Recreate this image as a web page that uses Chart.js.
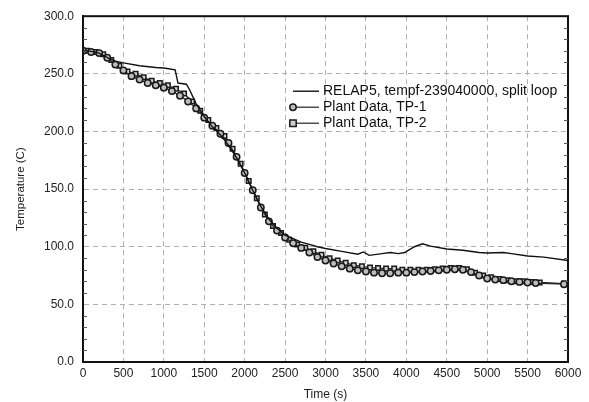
<!DOCTYPE html>
<html lang="en">
<head>
  <meta charset="UTF-8" />
  <title>Temperature vs Time</title>
  <style>
    body { margin: 0; background: #fff; }
    .wrap { position: relative; width: 589px; height: 402px; }
  </style>
</head>
<body>
  <div class="wrap"><canvas id="tempChart" width="589" height="402"></canvas></div>

  <script src="https://cdn.jsdelivr.net/npm/chart.js"></script>
  <script>
    // RELAP5 calculation (time in s, temperature in C)
    const relapTime = [0, 100, 200, 300, 400, 500, 700, 900, 1000, 1140, 1175, 1280, 1320, 1400, 1500, 1600, 1700, 1800, 1900, 2000,
      2100, 2200, 2300, 2400, 2500, 2600, 2700, 2800, 2900, 3000, 3200, 3400, 3470, 3540, 3700, 3800, 3900, 3980, 4100, 4200,
      4300, 4500, 4700, 4900, 5000, 5200, 5300, 5500, 5700, 6000];
    const relapTemp = [270, 269.5, 268, 264, 261, 259.5, 257, 255.5, 255, 253.5, 242, 241, 236, 224, 213, 204, 197, 188, 177, 164,
      149, 135, 124, 116, 110, 107, 104, 102, 100, 98.5, 96, 93.5, 95.5, 92.5, 94, 95, 94, 95, 100, 102.5,
      100.5, 98, 97, 95, 94.5, 95, 94, 92, 91, 88];

    // Plant data TP-1 (circles)
    const tp1Time = [0, 100, 200, 300, 400, 500, 600, 700, 800, 900, 1000, 1100, 1200, 1300, 1400, 1500, 1600, 1700, 1800, 1900,
      2000, 2100, 2200, 2300, 2400, 2500, 2600, 2700, 2800, 2900, 3000, 3100, 3200, 3300, 3400, 3500, 3600, 3700, 3800, 3900,
      4000, 4100, 4200, 4300, 4400, 4500, 4600, 4700, 4800, 4900, 5000, 5100, 5200, 5300, 5400, 5500, 5600, 5950];
    const tp1Temp = [270, 269, 268, 264, 258, 253, 248, 245, 242, 240, 238, 235, 231, 226, 220, 212, 205, 198, 190, 178,
      164, 149, 134, 122, 114, 108, 103, 99, 95, 91, 88, 85.5, 83, 81, 79.5, 78.5, 77.5, 77, 77, 77.5,
      77.5, 78, 78.5, 79, 79.5, 80, 80.5, 80, 78, 75, 72.5, 71.5, 71, 70, 69.5, 69, 68.5, 67.5];

    // Plant data TP-2 (squares)
    const tp2Time = [50, 150, 250, 350, 450, 550, 650, 750, 850, 950, 1050, 1150, 1250, 1350, 1450, 1550, 1650, 1750, 1850, 1950,
      2050, 2150, 2250, 2350, 2450, 2550, 2650, 2750, 2850, 2950, 3050, 3150, 3250, 3350, 3450, 3550, 3650, 3750, 3850, 3950,
      4050, 4150, 4250, 4350, 4450, 4550, 4650, 4750, 4850, 4950, 5050, 5150, 5250, 5350, 5450, 5550, 5650, 5950];
    const tp2Temp = [270, 269, 267, 262, 257, 252, 250, 247, 244, 242, 240, 237, 233, 226, 218, 210, 203, 196, 185, 172,
      157, 142, 128, 118, 112, 106, 102, 99, 96, 93, 90, 88, 86, 84, 83, 82, 81.5, 81, 81, 80,
      80, 80, 80, 80.5, 81, 81.5, 81.5, 80.5, 77.5, 75, 73.5, 72, 71, 70, 70, 69.5, 69, 68];

    const seriesNames = ['RELAP5, tempf-239040000, split loop', 'Plant Data, TP-1', 'Plant Data, TP-2'];

    const toPoints = (xs, ys) => xs.map((x, i) => ({ x: x, y: ys[i] }));
    const FONT = 'Liberation Sans, Arial, sans-serif';

    // small inside ticks every 10 C on left and right frame
    const minorTicks = {
      id: 'minorTicks',
      afterDraw(chart) {
        const ctx = chart.ctx, y = chart.scales.y, a = chart.chartArea;
        ctx.save();
        ctx.strokeStyle = '#555';
        ctx.lineWidth = 1;
        for (let v = 10; v < 300; v += 10) {
          if (v % 50 === 0) continue;
          const py = Math.round(y.getPixelForValue(v)) + 0.5;
          ctx.beginPath();
          ctx.moveTo(a.left, py); ctx.lineTo(a.left + 4, py);
          ctx.moveTo(a.right, py); ctx.lineTo(a.right - 4, py);
          ctx.stroke();
        }
        ctx.restore();
      }
    };

    // legend drawn inside the plot area
    const innerLegend = {
      id: 'innerLegend',
      afterDraw(chart) {
        const ctx = chart.ctx, a = chart.chartArea;
        const x0 = a.left + 210, y0 = a.top + 75, rowH = 16;
        ctx.save();
        ctx.font = '14px ' + FONT;
        ctx.textBaseline = 'middle';
        chart.data.datasets.forEach((ds, i) => {
          const yy = y0 + i * rowH;
          ctx.strokeStyle = ds.borderColor;
          ctx.lineWidth = ds.borderWidth;
          ctx.beginPath();
          ctx.moveTo(x0, yy); ctx.lineTo(x0 + 26, yy);
          ctx.stroke();
          if (ds.pointRadius > 0) {
            ctx.fillStyle = ds.pointBackgroundColor;
            ctx.strokeStyle = ds.pointBorderColor;
            ctx.lineWidth = ds.pointBorderWidth;
            const r = ds.pointRadius;
            ctx.beginPath();
            if (ds.pointStyle === 'rect') ctx.rect(x0 - r, yy - r, 2 * r, 2 * r);
            else ctx.arc(x0, yy, r, 0, Math.PI * 2);
            ctx.fill(); ctx.stroke();
          }
          ctx.fillStyle = '#111';
          ctx.fillText(ds.label, x0 + 30, yy);
        });
        ctx.restore();
      }
    };

    new Chart(document.getElementById('tempChart'), {
      type: 'line',
      data: {
        datasets: [
          {
            label: seriesNames[0],
            data: toPoints(relapTime, relapTemp),
            borderColor: '#111',
            borderWidth: 1.4,
            pointRadius: 0,
            tension: 0
          },
          {
            label: seriesNames[1],
            data: toPoints(tp1Time, tp1Temp),
            borderColor: '#222',
            borderWidth: 1.2,
            pointStyle: 'circle',
            pointRadius: 3.2,
            pointBackgroundColor: '#bdbdbd',
            pointBorderColor: '#1a1a1a',
            pointBorderWidth: 1.5,
            tension: 0
          },
          {
            label: seriesNames[2],
            data: toPoints(tp2Time, tp2Temp),
            borderColor: '#222',
            borderWidth: 1.2,
            pointStyle: 'rect',
            pointRadius: 3.2,
            pointBackgroundColor: '#cfcfcf',
            pointBorderColor: '#1a1a1a',
            pointBorderWidth: 1.5,
            tension: 0
          }
        ]
      },
      options: {
        responsive: false,
        animation: false,
        layout: { padding: { top: 8, right: 21, left: 0, bottom: 0 } },
        plugins: { legend: { display: false }, tooltip: { enabled: false } },
        scales: {
          x: {
            type: 'linear',
            min: 0, max: 6000,
            border: { display: true, color: '#111', width: 2, dash: [5, 4] },
            grid: { color: '#b0b0b0', lineWidth: 1, drawTicks: false },
            ticks: {
              stepSize: 500, padding: 4, color: '#222', font: { family: FONT, size: 12 },
              callback: v => String(v)
            },
            title: { display: true, text: 'Time (s)', color: '#222', font: { family: FONT, size: 12 }, padding: { top: 2, bottom: 0 } },
            afterFit(scale) { scale.height = 40; }
          },
          y: {
            min: 0, max: 300,
            border: { display: true, color: '#111', width: 2, dash: [5, 4] },
            grid: { color: '#b0b0b0', lineWidth: 1, drawTicks: false },
            ticks: {
              stepSize: 50, padding: 9, color: '#222', font: { family: FONT, size: 12 },
              callback: v => v.toFixed(1)
            },
            title: { display: true, text: 'Temperature (C)', color: '#222', font: { family: FONT, size: 11.5 }, padding: { top: 14, bottom: 0 } },
            afterFit(scale) { scale.width = 83; }
          }
        }
      },
      plugins: [minorTicks, innerLegend, {
        id: 'frame',
        afterDatasetsDraw(chart) {
          const ctx = chart.ctx, a = chart.chartArea;
          ctx.save();
          ctx.strokeStyle = '#111';
          ctx.lineWidth = 2;
          ctx.strokeRect(a.left, a.top, a.right - a.left, a.bottom - a.top);
          ctx.restore();
        }
      }]
    });
  </script>
</body>
</html>
